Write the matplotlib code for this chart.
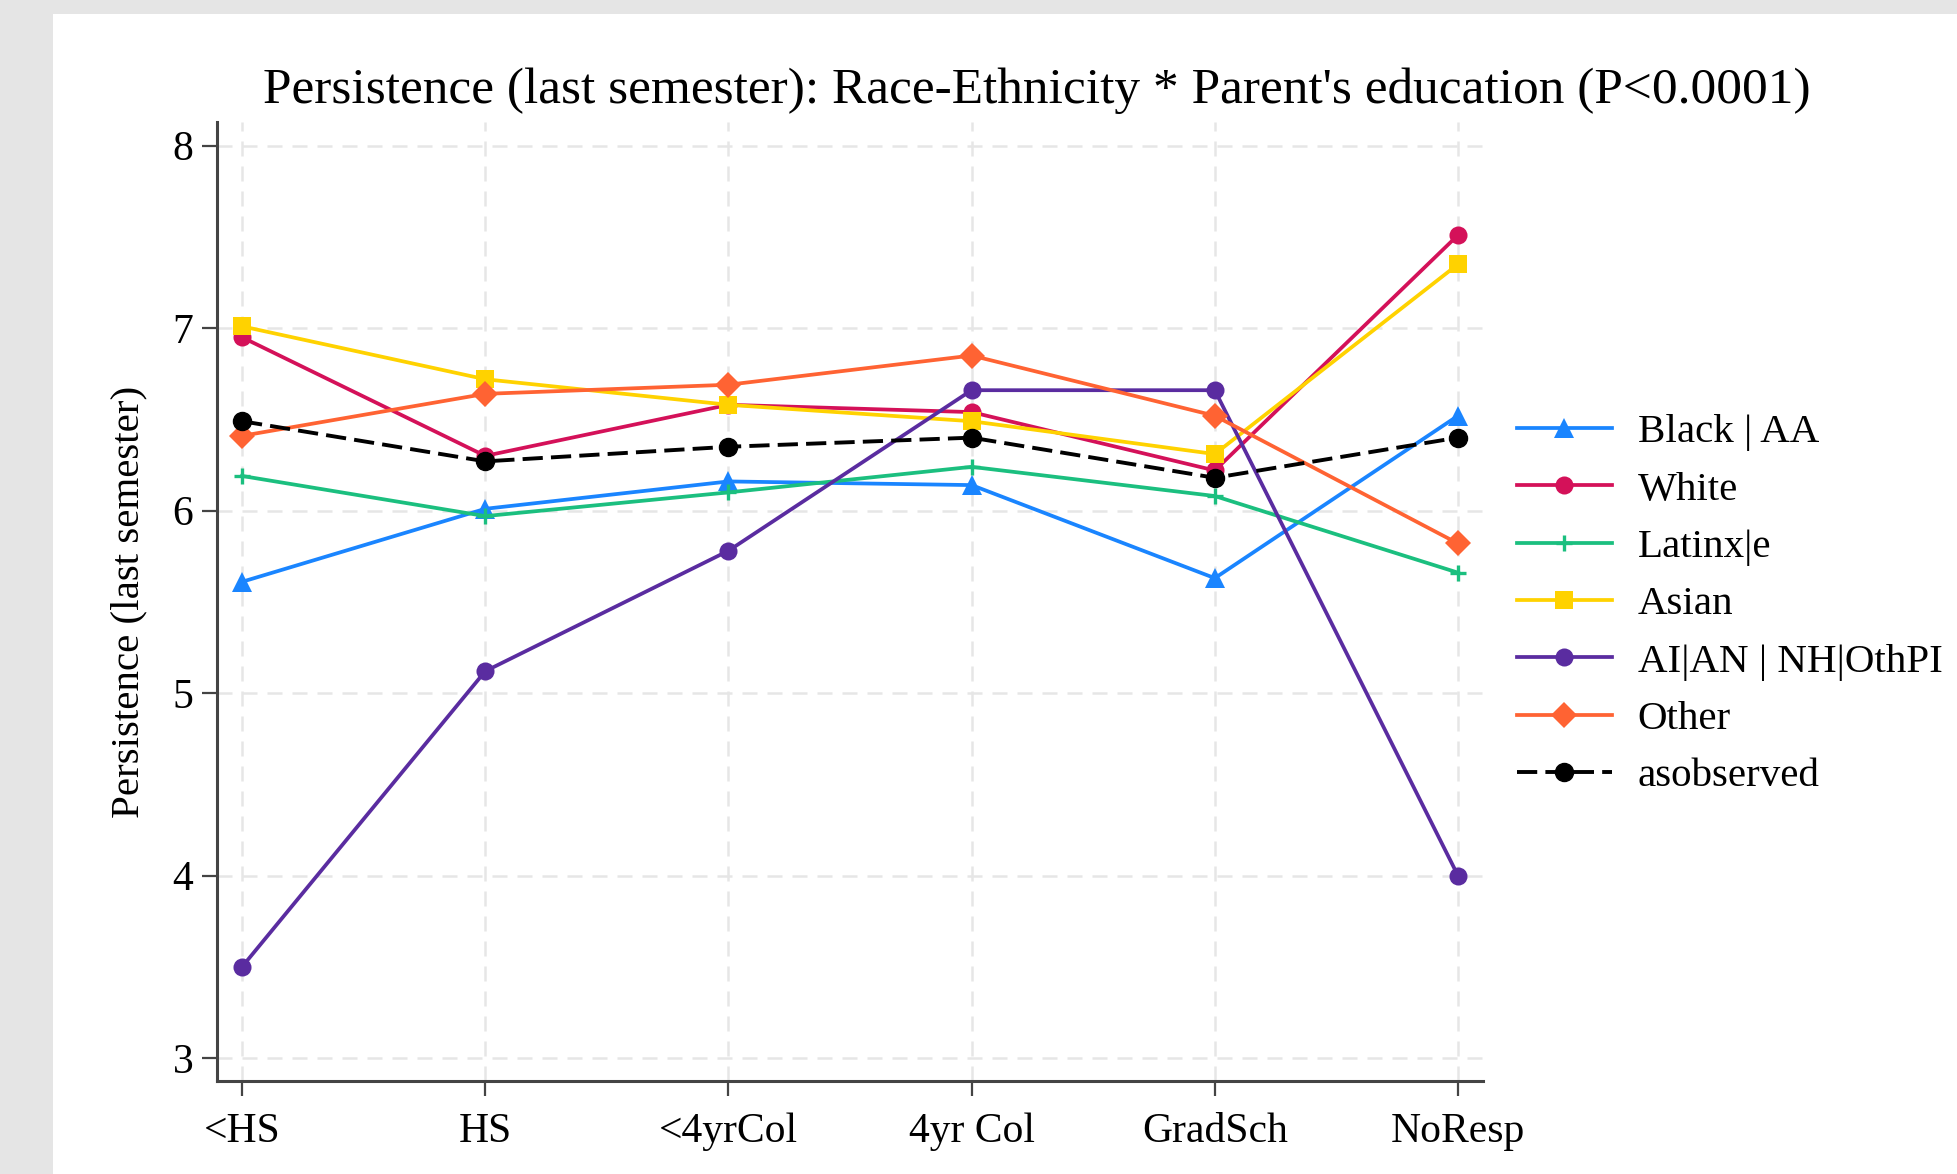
import numpy as np
import matplotlib
matplotlib.use("Agg")
import matplotlib.pyplot as plt
from matplotlib.patches import Rectangle

plt.rcParams['font.family'] = ['Liberation Serif', 'DejaVu Serif']

# parent's education categories
levels = ['<HS', 'HS', '<4yrCol', '4yr Col', 'GradSch', 'NoResp']

# mean persistence by race-ethnicity group
black = [5.61, 6.01, 6.16, 6.14, 5.63, 6.52]
white = [6.95, 6.30, 6.58, 6.54, 6.22, 7.51]
latinx = [6.19, 5.97, 6.10, 6.24, 6.08, 5.66]
asian = [7.01, 6.72, 6.58, 6.49, 6.31, 7.35]
aian = [3.50, 5.12, 5.78, 6.66, 6.66, 4.00]
other = [6.41, 6.64, 6.69, 6.85, 6.52, 5.82]
asobserved = [6.49, 6.27, 6.35, 6.40, 6.18, 6.40]

groups = ['Black | AA', 'White', 'Latinx|e', 'Asian', 'AI|AN | NH|OthPI', 'Other']
series = [black, white, latinx, asian, aian, other]
colors = ['#1a85ff', '#d41159', '#1bbf7f', '#ffd200', '#5a2ca0', '#ff6333']
markers = ['^', 'o', '+', 's', 'o', 'D']
msizes = [14, 13, 11, 13, 13, 13]

fig = plt.figure(figsize=(19.57, 11.74), dpi=100)
fig.patch.set_facecolor('#e5e5e5')
fig.patches.append(Rectangle((53 / 1957, 0), 1, 1 - 14 / 1174,
                             transform=fig.transFigure, facecolor='white',
                             edgecolor='none', zorder=-1))

ax = fig.add_axes([0.1109, 0.0792, 0.6469, 0.8169])
ax.set_facecolor('white')
x = np.arange(len(levels))

for vals, name, c, m, ms in zip(series, groups, colors, markers, msizes):
    ax.plot(x, vals, color=c, marker=m, markersize=ms, lw=2.7,
            markeredgewidth=2.4 if m == '+' else 0, label=name, zorder=3)
ax.plot(x, asobserved, color='black', marker='o', markersize=13, lw=2.8,
        linestyle=(0, (5.2, 2.1)), label='asobserved', zorder=3)

ax.set_xlim(-0.103, 5.103)
ax.set_ylim(2.874, 8.13)
ax.set_xticks(x)
ax.set_xticklabels(levels)
ax.set_yticks([3, 4, 5, 6, 7, 8])

ax.grid(True, color='#e6e6e6', lw=1.8, linestyle=(0, (6, 4)), zorder=0)
ax.set_axisbelow(True)
for s in ['top', 'right']:
    ax.spines[s].set_visible(False)
for s in ['left', 'bottom']:
    ax.spines[s].set_color('#444444')
    ax.spines[s].set_linewidth(2.2)
ax.tick_params(axis='both', length=11, width=1.6, color='#444444',
               labelsize=30, pad=6)
ax.tick_params(axis='x', pad=12)

ax.set_ylabel('Persistence (last semester)', fontsize=29.5, labelpad=18)

fig.text(0.53, 0.9225, "Persistence (last semester): Race-Ethnicity * Parent's education (P<0.0001)",
         ha='center', va='center', fontsize=37)

ax.legend(loc='center left', bbox_to_anchor=(0.998, 0.497), frameon=False,
          fontsize=29.5, handlelength=2.3, labelspacing=0.48, handletextpad=0.64)

fig.savefig('out.png', dpi=100, facecolor=fig.get_facecolor())
